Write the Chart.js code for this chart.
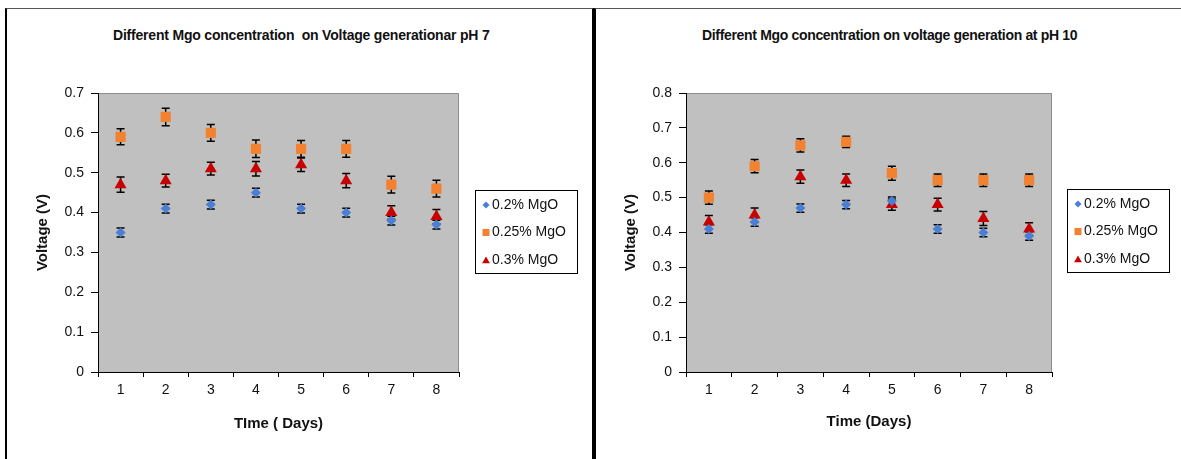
<!DOCTYPE html>
<html>
<head>
<meta charset="utf-8">
<script src="https://cdn.jsdelivr.net/npm/chart.js@4.4.0/dist/chart.umd.min.js"></script>
<style>
  body { margin: 0; background: #fff; width: 1181px; height: 459px; overflow: hidden; position: relative; font-family: "Liberation Sans", Arial, sans-serif; }
  .panel { position: absolute; top: 8px; height: 460px; border-top: 1px solid #555; box-sizing: border-box; }
  #p1 { left: 5px; width: 589px; border-left: 2px solid #000; border-right: 2px solid #000; }
  #p2 { left: 594px; width: 600px; border-left: 2px solid #000; }
  .title { position: absolute; top: 27px; font-weight: bold; font-size: 14px; white-space: pre; color: #111; }
  canvas { position: absolute; top: 9px; }
</style>
</head>
<body>
<div class="panel" id="p1"></div>
<div class="panel" id="p2"></div>
<div class="title" id="t1" style="left:113px; letter-spacing:-0.2px">Different Mgo concentration  on Voltage generationar pH 7</div>
<div class="title" id="t2" style="left:702px; letter-spacing:-0.33px">Different Mgo concentration on voltage generation at pH 10</div>
<canvas id="chart7" width="586" height="450" style="left:7px"></canvas>
<canvas id="chart10" width="584" height="450" style="left:597px"></canvas>
<script>
// Categories (days)
const days = ['1', '2', '3', '4', '5', '6', '7', '8'];
const seriesNames = ['0.2% MgO', '0.25% MgO', '0.3% MgO'];

// pH 7 values and error bars
const blue7 = [0.35, 0.41, 0.42, 0.45, 0.41, 0.40, 0.38, 0.37];
const orange7 = [0.59, 0.64, 0.60, 0.56, 0.56, 0.56, 0.47, 0.46];
const red7 = [0.47, 0.48, 0.51, 0.51, 0.52, 0.48, 0.40, 0.39];
const blueErr7 = [0.011, 0.011, 0.011, 0.011, 0.011, 0.011, 0.011, 0.011];
const orangeErr7 = [0.02, 0.022, 0.021, 0.022, 0.021, 0.021, 0.021, 0.021];
const redErr7 = [0.019, 0.016, 0.016, 0.018, 0.017, 0.018, 0.017, 0.018];

// pH 10 values and error bars
const blue10 = [0.41, 0.43, 0.47, 0.48, 0.49, 0.41, 0.40, 0.39];
const orange10 = [0.50, 0.59, 0.65, 0.66, 0.57, 0.55, 0.55, 0.55];
const red10 = [0.43, 0.45, 0.56, 0.55, 0.48, 0.48, 0.44, 0.41];
const blueErr10 = [0.012, 0.012, 0.012, 0.012, 0.012, 0.012, 0.012, 0.012];
const orangeErr10 = [0.019, 0.019, 0.019, 0.016, 0.02, 0.018, 0.018, 0.018];
const redErr10 = [0.019, 0.02, 0.019, 0.018, 0.016, 0.018, 0.02, 0.018];

// Y tick labels
const yTicks7 = ['0', '0.1', '0.2', '0.3', '0.4', '0.5', '0.6', '0.7'];
const yTicks10 = ['0', '0.1', '0.2', '0.3', '0.4', '0.5', '0.6', '0.7', '0.8'];

const FONT = '"Liberation Sans", Arial, sans-serif';
const BLUE = '#4a7fd4';
const ORANGE = '#f28230';
const RED = '#c80000';

// fundo cinza da área do gráfico
const plotBg = {
  id: 'plotBg',
  beforeDraw(chart) {
    const { ctx, chartArea: a } = chart;
    ctx.save();
    ctx.fillStyle = '#c0c0c0';
    ctx.fillRect(a.left, a.top, a.right - a.left, a.bottom - a.top);
    ctx.strokeStyle = '#8c8c8c';
    ctx.lineWidth = 1;
    ctx.beginPath();
    ctx.moveTo(a.left, a.top + 0.5);
    ctx.lineTo(a.right - 0.5, a.top + 0.5);
    ctx.lineTo(a.right - 0.5, a.bottom);
    ctx.stroke();
    ctx.restore();
  }
};

// barras de erro desenhadas antes dos marcadores
const errorBars = {
  id: 'errorBars',
  beforeDatasetsDraw(chart) {
    const { ctx } = chart;
    const y = chart.scales.y;
    ctx.save();
    ctx.strokeStyle = '#000';
    ctx.lineWidth = 1.5;
    chart.data.datasets.forEach((ds, i) => {
      const meta = chart.getDatasetMeta(i);
      meta.data.forEach((pt, j) => {
        const v = ds.data[j];
        const e = ds.errors[j];
        const top = y.getPixelForValue(v + e);
        const bot = y.getPixelForValue(v - e);
        const x = pt.x;
        ctx.beginPath();
        ctx.moveTo(x, top); ctx.lineTo(x, bot);
        ctx.moveTo(x - 4, top); ctx.lineTo(x + 4, top);
        ctx.moveTo(x - 4, bot); ctx.lineTo(x + 4, bot);
        ctx.stroke();
      });
    });
    ctx.restore();
  }
};

// legenda com caixa
const boxLegend = {
  id: 'boxLegend',
  afterDraw(chart, args, opts) {
    const { ctx } = chart;
    const bx = opts.x, by = opts.y;
    ctx.save();
    ctx.fillStyle = '#fff';
    ctx.fillRect(bx, by, 102, 83);
    ctx.strokeStyle = '#000';
    ctx.lineWidth = 1;
    ctx.strokeRect(bx + 0.5, by + 0.5, 102, 83);
    const sizes = [3.5, 5, 4.5];
    chart.data.datasets.forEach((ds, i) => {
      const cy = by + 15 + i * 27.5;
      ctx.fillStyle = ds.backgroundColor;
      ctx.strokeStyle = ds.backgroundColor;
      Chart.helpers.drawPoint(ctx, { pointStyle: ds.pointStyle, radius: sizes[i], rotation: 0, borderWidth: 0 }, bx + 11, cy + (i === 2 ? 1 : 0));
      ctx.fillStyle = '#111';
      ctx.font = '14px ' + FONT;
      ctx.textBaseline = 'middle';
      ctx.fillText(ds.label, bx + 17, cy);
    });
    ctx.restore();
  }
};

function makeChart(id, blue, orange, red, errs, yTicks, yMax, xTitle, pad, yWidth, xHeight, legendPos) {
  const ctx = document.getElementById(id).getContext('2d');
  return new Chart(ctx, {
    type: 'line',
    data: {
      labels: days,
      datasets: [
        { label: seriesNames[0], data: blue, errors: errs[0], pointStyle: 'rectRot', pointRadius: 5, backgroundColor: BLUE, borderColor: BLUE, borderWidth: 0 },
        { label: seriesNames[1], data: orange, errors: errs[1], pointStyle: 'rect', pointRadius: 7.2, backgroundColor: ORANGE, borderColor: ORANGE, borderWidth: 0 },
        { label: seriesNames[2], data: red, errors: errs[2], pointStyle: 'triangle', pointRadius: 7, backgroundColor: RED, borderColor: RED, borderWidth: 0 }
      ]
    },
    options: {
      responsive: false,
      animation: false,
      showLine: false,
      layout: { padding: pad },
      plugins: {
        legend: { display: false },
        tooltip: { enabled: false },
        boxLegend: legendPos
      },
      scales: {
        x: {
          type: 'category',
          offset: true,
          grid: { offset: true, drawOnChartArea: false, drawTicks: true, tickLength: 5, color: '#000' },
          border: { display: true, color: '#000', width: 1 },
          ticks: { font: { family: FONT, size: 14 }, color: '#111', padding: 5, maxRotation: 0 },
          title: { display: true, text: xTitle, font: { family: FONT, size: 15, weight: 'bold' }, color: '#111', padding: 4 },
          afterFit(scale) { scale.height = xHeight; }
        },
        y: {
          min: 0,
          max: yMax,
          ticks: {
            stepSize: 0.1,
            font: { family: FONT, size: 14 },
            color: '#111',
            padding: 7,
            callback: (v, i) => yTicks[i]
          },
          grid: { drawOnChartArea: false, drawTicks: true, tickLength: 7, color: '#000' },
          border: { display: true, color: '#000', width: 1 },
          title: { display: true, text: 'Voltage (V)', font: { family: FONT, size: 15, weight: 'bold' }, color: '#111', padding: 4 },
          afterFit(scale) { scale.width = yWidth; }
        }
      }
    },
    plugins: [plotBg, errorBars, boxLegend]
  });
}

makeChart('chart7', blue7, orange7, red7, [blueErr7, orangeErr7, redErr7], yTicks7, 0.7, 'TIme ( Days)',
  { left: 23, top: 84, right: 134, bottom: 22 }, 68, 65, { x: 468, y: 181 });

makeChart('chart10', blue10, orange10, red10, [blueErr10, orangeErr10, redErr10], yTicks10, 0.8, 'Time (Days)',
  { left: 21, top: 84, right: 129, bottom: 24 }, 68, 63, { x: 470, y: 180 });
</script>
</body>
</html>
